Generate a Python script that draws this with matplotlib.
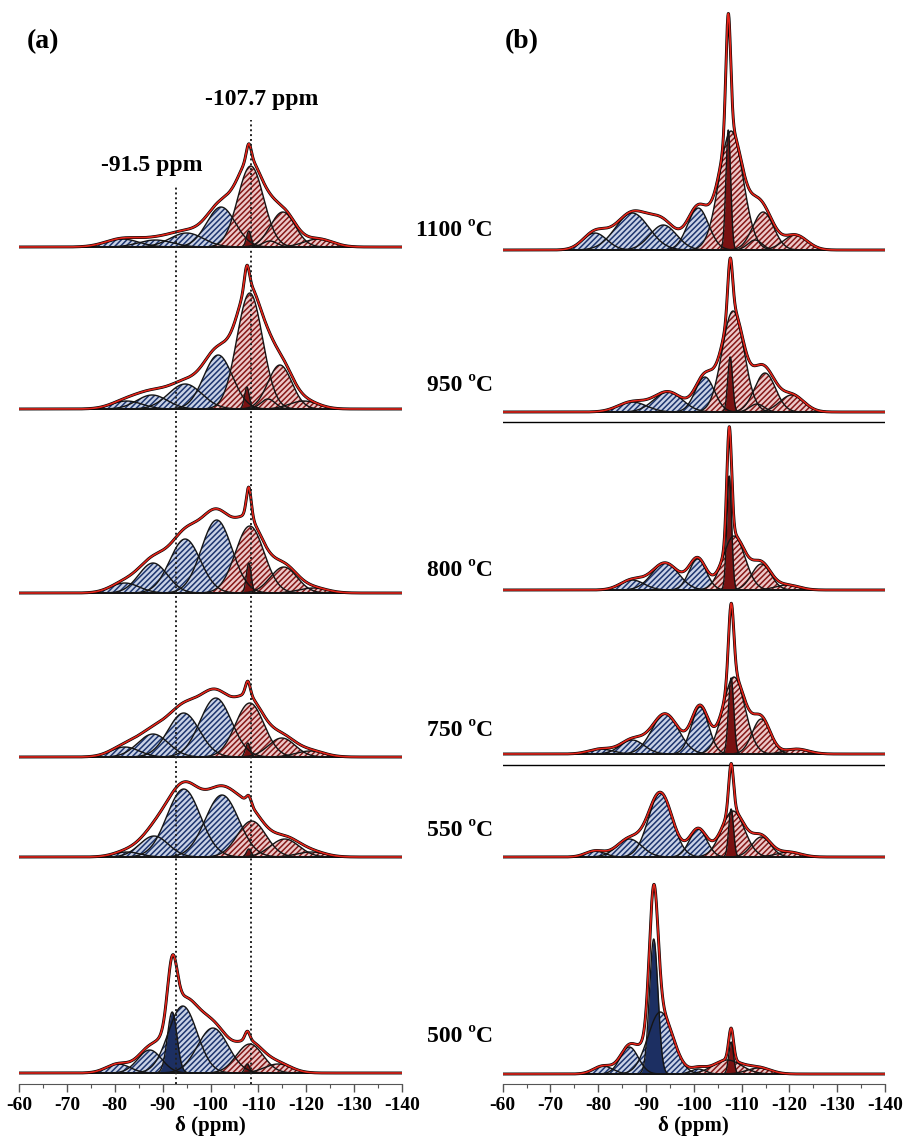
import numpy as np
import matplotlib.pyplot as plt
from matplotlib.ticker import MultipleLocator

plt.rcParams['font.family'] = ['Liberation Serif', 'DejaVu Serif']
plt.rcParams['font.weight'] = 'bold'
plt.rcParams['hatch.linewidth'] = 1.1

# temperatures, top to bottom
temps = ['1100 ºC', '950 ºC', '800 ºC', '750 ºC', '550 ºC', '500 ºC']

# fitted components: (centre ppm, height, width ppm, kind)
# kind: q = hatched blue, Q = narrow solid blue, r = hatched red, R = narrow solid red
a_1100 = [(-81.5, 8, 3.5, 'q'), (-88.5, 7, 3.5, 'q'), (-95, 14, 3.5, 'q'), (-102.2, 40, 3.0, 'q'),
          (-108.4, 81, 2.7, 'r'), (-108, 16, 0.5, 'R'), (-112.4, 6, 1.5, 'r'), (-115.1, 35, 2.6, 'r'),
          (-122.5, 8, 3, 'r')]
a_950 = [(-82.5, 8, 3.2, 'q'), (-87.8, 14, 3.2, 'q'), (-94.7, 25, 3.5, 'q'), (-101.6, 54, 3.0, 'q'),
         (-108.2, 116, 2.7, 'r'), (-107.6, 22, 0.5, 'R'), (-112, 10, 1.5, 'r'), (-114.5, 44, 2.5, 'r'),
         (-119.5, 8, 3, 'r')]
a_800 = [(-82.1, 10, 3, 'q'), (-88, 30, 3, 'q'), (-94.7, 54, 3.2, 'q'), (-101.3, 73, 3.2, 'q'),
         (-108.2, 67, 3.0, 'r'), (-108, 30, 0.5, 'R'), (-115.3, 26, 2.8, 'r'), (-121.4, 5, 3, 'r')]
a_750 = [(-82.1, 10, 3, 'q'), (-88, 23, 3.2, 'q'), (-94.4, 44, 3.3, 'q'), (-101.1, 59, 3.3, 'q'),
         (-108.2, 54, 3.0, 'r'), (-107.8, 14, 0.5, 'R'), (-114.9, 19, 2.8, 'r'), (-120.8, 6, 3, 'r')]
a_550 = [(-82.5, 5, 2.8, 'q'), (-88.2, 21, 3, 'q'), (-94.4, 68, 3.5, 'q'), (-102.4, 62, 3.5, 'q'),
         (-108.6, 36, 3, 'r'), (-108, 8, 0.5, 'R'), (-115.5, 18, 3, 'r'), (-121, 5, 3, 'r')]
a_500 = [(-80.7, 9, 2.5, 'q'), (-87.3, 23, 2.5, 'q'), (-94.2, 67, 3.0, 'q'), (-100.5, 45, 3.2, 'q'),
         (-92, 61, 1.0, 'Q'), (-108.2, 29, 2.8, 'r'), (-107.7, 9, 0.5, 'R'), (-114.1, 9, 2.8, 'r')]

b_1100 = [(-79.3, 17, 2.5, 'q'), (-87.1, 37, 3.5, 'q'), (-93.6, 25, 2.8, 'q'), (-100.9, 42, 2.2, 'q'),
          (-107.8, 119, 2.5, 'r'), (-107.2, 120, 0.5, 'R'), (-112.8, 10, 1.5, 'r'), (-114.5, 38, 2.2, 'r'),
          (-121.2, 15, 2.5, 'r')]
b_950 = [(-87.1, 10, 3, 'q'), (-94.6, 20, 3, 'q'), (-102.3, 35, 2, 'q'), (-108.2, 101, 2.3, 'r'),
         (-107.6, 55, 0.5, 'R'), (-113.2, 8, 1.5, 'r'), (-114.9, 39, 2.2, 'r'), (-120.5, 17, 2.5, 'r')]
b_800 = [(-87.1, 10, 2.5, 'q'), (-94, 27, 2.8, 'q'), (-100.8, 31, 1.8, 'q'), (-108.4, 54, 2.3, 'r'),
         (-107.4, 114, 0.5, 'R'), (-114.1, 26, 2.0, 'r'), (-119.5, 5, 2.5, 'r')]
b_750 = [(-80.5, 5, 2.5, 'q'), (-87.1, 14, 2.5, 'q'), (-94, 40, 2.8, 'q'), (-101.3, 47, 1.8, 'q'),
         (-108.4, 77, 2.3, 'r'), (-107.8, 76, 0.55, 'R'), (-114.1, 35, 1.9, 'r'), (-121.5, 5, 2.5, 'r')]
b_550 = [(-79.3, 6, 2, 'q'), (-86.5, 18, 2.6, 'q'), (-93, 64, 2.5, 'q'), (-100.9, 28, 1.8, 'q'),
         (-108.2, 46, 2.4, 'r'), (-107.8, 48, 0.5, 'R'), (-114.1, 20, 2.0, 'r'), (-119.8, 5, 2.5, 'r')]
b_500 = [(-81, 8, 2, 'q'), (-86.5, 27, 1.9, 'q'), (-93, 62, 2.6, 'q'), (-100.9, 5, 1.5, 'q'),
         (-91.6, 135, 0.9, 'Q'), (-107, 14, 3, 'r'), (-113.6, 6, 2.5, 'r'), (-107.8, 32, 0.5, 'R')]

panel_a = [a_1100, a_950, a_800, a_750, a_550, a_500]
panel_b = [b_1100, b_950, b_800, b_750, b_550, b_500]

# reference shifts marked in (a)
ref_labels = ['-91.5 ppm', '-107.7 ppm']
ref_pos = [-92.8, -108.5]

# layout (pixels from the top of the figure)
W, H = 912, 1140
ax_bottom_px = 1084
base_a = [247, 409, 593, 757, 857, 1073]
base_b = [250, 412, 590, 754, 857, 1074]

styles = {
    'q': dict(facecolor='#c9d2e6', edgecolor='#1d356f', hatch='//////'),
    'r': dict(facecolor='#ecc9c9', edgecolor='#861818', hatch='//////'),
    'Q': dict(facecolor='#1c2f62', edgecolor='#1c2f62', hatch=None),
    'R': dict(facecolor='#7a1212', edgecolor='#7a1212', hatch=None),
}
order = {'q': 0, 'r': 1, 'Q': 2, 'R': 3}

ppm = np.linspace(-60, -140, 2001)


def draw_spectrum(ax, comps, base):
    total = np.zeros_like(ppm)
    for c, h, w, k in sorted(comps, key=lambda t: order[t[3]]):
        g = h * np.exp(-0.5 * ((ppm - c) / w) ** 2)
        total += g
        ax.fill_between(ppm, base, base + g, lw=0, zorder=2, **styles[k])
        ax.plot(ppm, base + g, color='#151515', lw=1.0, zorder=3)
    ax.plot(ppm, base + total, color='black', lw=2.1, zorder=4)
    ax.plot(ppm, base + total, color='#e2241a', lw=1.2, zorder=5)


fig = plt.figure(figsize=(W / 100, H / 100), dpi=100)
ax_a = fig.add_axes([19 / W, 1 - ax_bottom_px / H, 383 / W, ax_bottom_px / H])
ax_b = fig.add_axes([502.7 / W, 1 - ax_bottom_px / H, 382.3 / W, ax_bottom_px / H])

for ax, spectra, bases in [(ax_a, panel_a, base_a), (ax_b, panel_b, base_b)]:
    for comps, b in zip(spectra, bases):
        draw_spectrum(ax, comps, ax_bottom_px - b)
    ax.set_xlim(-60, -140)
    ax.set_ylim(0, ax_bottom_px)
    ax.patch.set_visible(False)
    for s in ['left', 'right', 'top']:
        ax.spines[s].set_visible(False)
    ax.spines['bottom'].set_color('#555555')
    ax.set_yticks([])
    ax.xaxis.set_minor_locator(MultipleLocator(5))
    ax.tick_params(axis='x', which='major', length=6, width=1, color='#555555',
                   labelsize=14, pad=3)
    ax.tick_params(axis='x', which='minor', length=3, width=0.8, color='#555555')
    ax.set_xticks(np.arange(-60, -141, -10))
    ax.set_xticklabels([str(v) for v in range(-60, -141, -10)], fontweight='bold')
    ax.set_xlabel('δ (ppm)', fontsize=15, fontweight='bold', labelpad=2)

# dotted reference lines in (a)
line_tops = [187, 120]
for x, top in zip(ref_pos, line_tops):
    ax_a.plot([x, x], [0, ax_bottom_px - top], ls=(0, (1, 1.5)), color='#222222', lw=1.4, zorder=6)
fig.text(152 / W, 1 - 166 / H, ref_labels[0], ha='center', va='center', fontsize=17, fontweight='bold')
fig.text(262 / W, 1 - 100 / H, ref_labels[1], ha='center', va='center', fontsize=17, fontweight='bold')

# separators in (b)
for y in [422, 765]:
    ax_b.axhline(ax_bottom_px - y, color='black', lw=1.0, zorder=1)

# temperature labels
temp_y = [230, 386, 570, 730, 830, 1037]
for t, y in zip(temps, temp_y):
    fig.text(493 / W, 1 - y / H, t, ha='right', va='center', fontsize=17, fontweight='bold')

fig.text(27 / W, 1 - 42 / H, '(a)', ha='left', va='center', fontsize=20, fontweight='bold')
fig.text(505 / W, 1 - 42 / H, '(b)', ha='left', va='center', fontsize=20, fontweight='bold')

fig.savefig('out.png', dpi=100)
